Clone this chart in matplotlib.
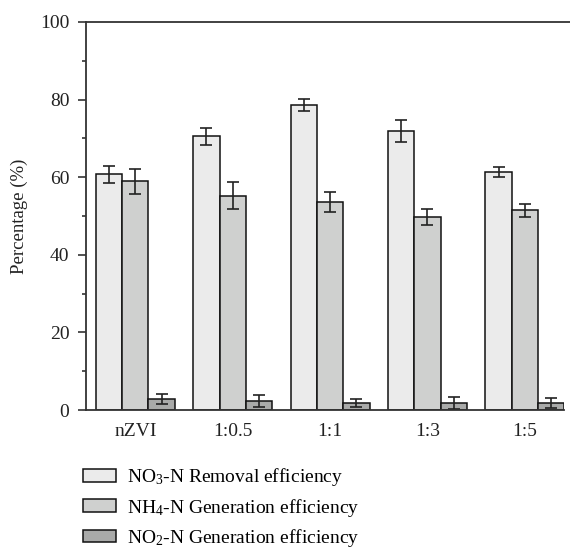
import numpy as np
import matplotlib
matplotlib.use("Agg")
import matplotlib.pyplot as plt
from matplotlib.lines import Line2D

plt.rcParams['font.family'] = ['Liberation Serif', 'DejaVu Serif']
plt.rcParams['mathtext.fontset'] = 'custom'
plt.rcParams['mathtext.rm'] = 'Liberation Serif'
plt.rcParams['mathtext.default'] = 'regular'

# ratios tested
groups = ['nZVI', '1:0.5', '1:1', '1:3', '1:5']

# efficiencies (%) and standard deviations
no3_removal = [60.8, 70.6, 78.6, 71.9, 61.3]
no3_err = [2.2, 2.2, 1.6, 2.8, 1.3]
nh4_gen = [58.9, 55.2, 53.7, 49.8, 51.5]
nh4_err = [3.2, 3.5, 2.6, 2.1, 1.7]
no2_gen = [2.8, 2.3, 1.8, 1.8, 1.8]
no2_err = [1.3, 1.45, 1.1, 1.5, 1.4]

labels = ['NO$_3$-N Removal efficiency',
          'NH$_4$-N Generation efficiency',
          'NO$_2$-N Generation efficiency']
colors = ['#ebebeb', '#cfd0cf', '#a9aaa9']

fig = plt.figure(figsize=(5.7, 5.5), dpi=100)
ax = fig.add_axes([0.151, 0.2545, 0.839, 0.7055])

x = np.arange(len(groups))
w = 0.27
series = [(no3_removal, no3_err), (nh4_gen, nh4_err), (no2_gen, no2_err)]
for i, (vals, errs) in enumerate(series):
    ax.bar(x + (i - 1) * w, vals, w, color=colors[i], edgecolor='#111111',
           linewidth=1.1, label=labels[i], zorder=2,
           yerr=errs, capsize=4.5,
           error_kw=dict(ecolor='#222222', elinewidth=1.2, capthick=1.2))

ax.set_xlim(-0.506, 4.405)
ax.set_ylim(0, 100)
ax.set_xticks(x)
ax.set_xticklabels(groups)
ax.set_yticks([0, 20, 40, 60, 80, 100])
ax.set_yticks([10, 30, 50, 70, 90], minor=True)
ax.tick_params(axis='x', length=0, pad=9, labelsize=14, colors='#222222')
ax.tick_params(axis='y', which='major', direction='out', length=6, width=1.2,
               pad=6, labelsize=14, colors='#333333', labelcolor='#222222')
ax.tick_params(axis='y', which='minor', direction='out', length=3, width=1.2,
               colors='#333333')
ax.set_ylabel('Percentage (%)', fontsize=13.5, color='#222222', labelpad=9)

for side in ['left', 'bottom', 'top']:
    ax.spines[side].set_linewidth(1.3)
    ax.spines[side].set_color('#333333')
ax.spines['right'].set_visible(False)
ax.spines['top'].set_visible(False)
ax.add_line(Line2D([0, 1.02], [1, 1], transform=ax.transAxes, color='#333333',
                   linewidth=1.3, clip_on=False))

fig.legend(loc='upper left', bbox_to_anchor=(0.145, 0.152), frameon=False,
           fontsize=14, handlelength=1.7, handleheight=0.62,
           handletextpad=0.6, labelspacing=0.42, borderaxespad=0,
           borderpad=0)

fig.savefig('out.png', dpi=100)
